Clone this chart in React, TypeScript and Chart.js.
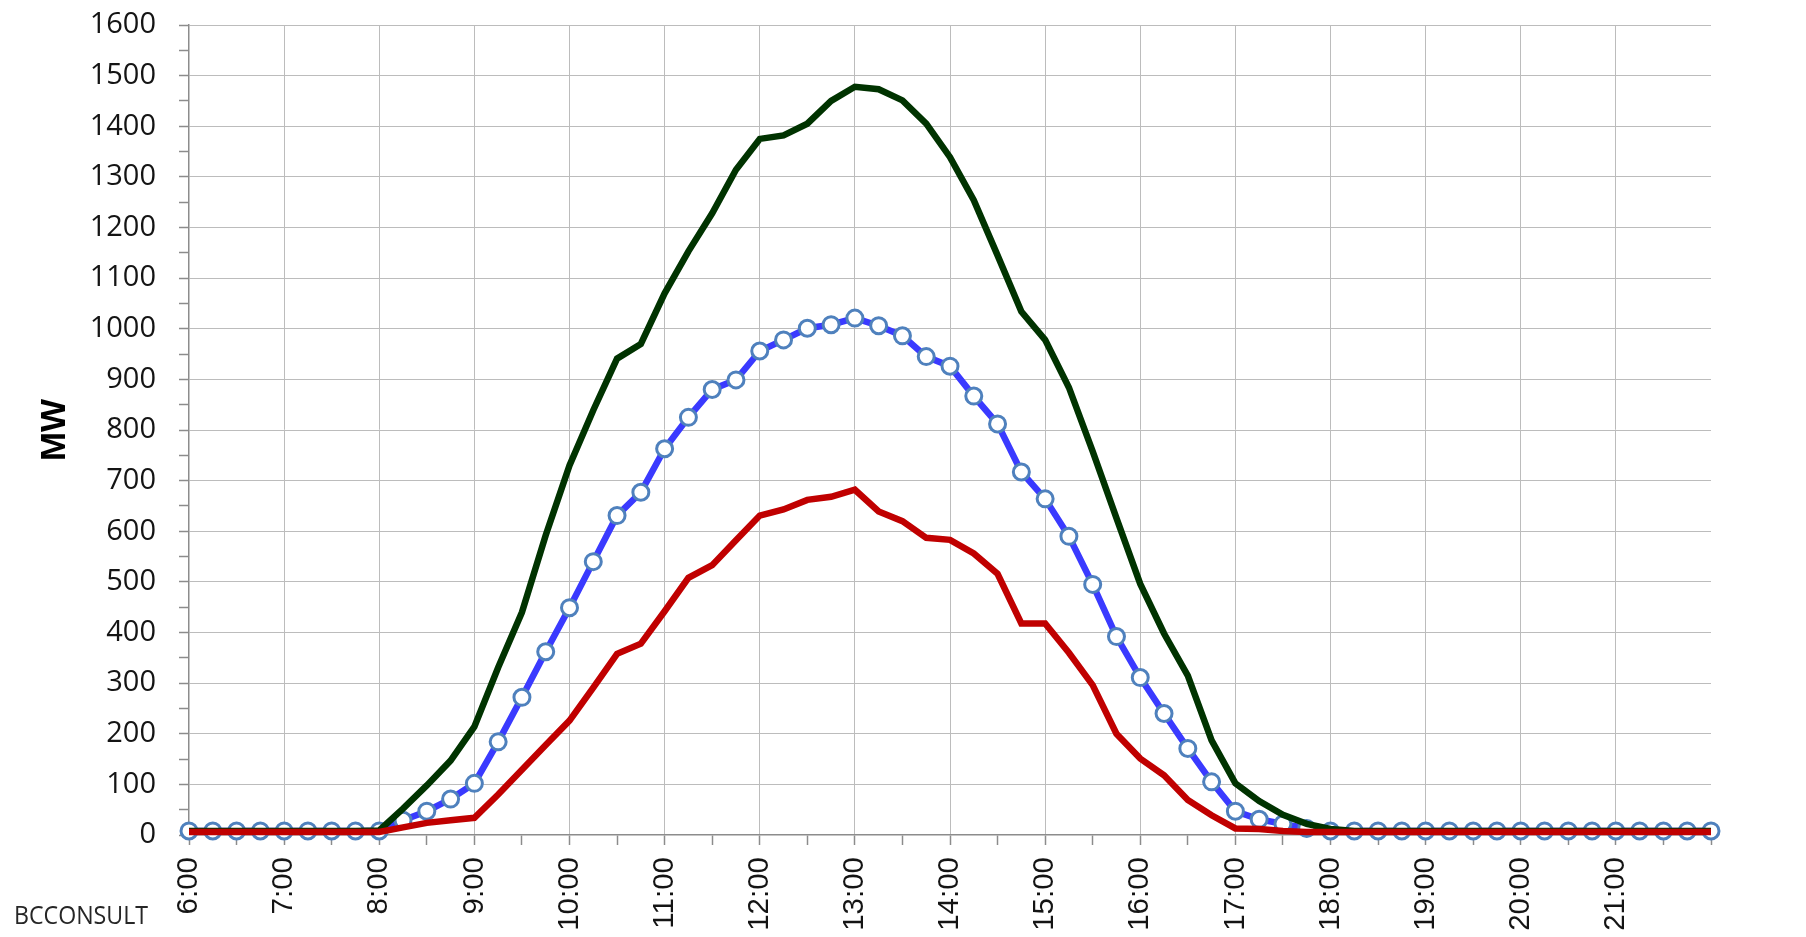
import React, { useEffect, useRef } from "react";
import { Chart, registerables } from "chart.js";

Chart.register(...registerables);

const times = [
  "6:00", "6:15", "6:30", "6:45", "7:00", "7:15", "7:30", "7:45",
  "8:00", "8:15", "8:30", "8:45", "9:00", "9:15", "9:30", "9:45",
  "10:00", "10:15", "10:30", "10:45", "11:00", "11:15", "11:30", "11:45",
  "12:00", "12:15", "12:30", "12:45", "13:00", "13:15", "13:30", "13:45",
  "14:00", "14:15", "14:30", "14:45", "15:00", "15:15", "15:30", "15:45",
  "16:00", "16:15", "16:30", "16:45", "17:00", "17:15", "17:30", "17:45",
  "18:00", "18:15", "18:30", "18:45", "19:00", "19:15", "19:30", "19:45",
  "20:00", "20:15", "20:30", "20:45", "21:00", "21:15", "21:30", "21:45",
  "22:00",
];

const blueSeries = [
  8, 8, 8, 8, 8, 8, 8, 8,
  8, 29, 47, 71, 102, 184, 272, 362,
  449, 540, 631, 677, 763, 825, 880, 899,
  956, 978, 1001, 1008, 1021, 1006, 986, 945,
  926, 867, 812, 717, 664, 590, 495, 392,
  311, 240, 171, 105, 47, 31, 22, 13,
  8, 8, 8, 8, 8, 8, 8, 8,
  8, 8, 8, 8, 8, 8, 8, 8,
  8,
];

const greenSeries = [
  8, 8, 8, 8, 8, 8, 8, 8,
  9, 52, 98, 147, 214, 331, 440, 592,
  730, 839, 941, 970, 1070, 1153, 1228, 1314,
  1375, 1382, 1405, 1450, 1478, 1473, 1451, 1405,
  1339, 1254, 1145, 1034, 978, 884, 758, 626,
  496, 398, 315, 187, 102, 67, 40, 22,
  12, 8, 8, 8, 8, 8, 8, 8,
  8, 8, 8, 8, 8, 8, 8, 8,
  8,
];

const redSeries = [
  6, 6, 6, 6, 6, 6, 6, 6,
  6, 15, 24, 29, 34, 80, 129, 178,
  226, 291, 358, 378, 442, 508, 533, 582,
  631, 643, 662, 668, 682, 639, 620, 587,
  583, 556, 516, 418, 418, 360, 296, 200,
  151, 118, 69, 39, 13, 12, 8, 6,
  6, 6, 6, 6, 6, 6, 6, 6,
  6, 6, 6, 6, 6, 6, 6, 6,
  6,
];

const yTitle = "MW";
const footerText = "BCCONSULT";

const GRID = "#bcbcbc";
const AXIS = "#8c8c8c";
const TEXT = "#141414";

const footerPlugin = {
  id: "footerText",
  afterDraw(chart: any) {
    const ctx = chart.ctx;
    ctx.save();
    ctx.font = '26px "Open Sans"';
    ctx.fillStyle = "#262626";
    ctx.textBaseline = "alphabetic";
    ctx.textAlign = "left";
    const w = ctx.measureText(footerText).width;
    const target = 134;
    ctx.translate(14, 924);
    ctx.scale(target / w, 1);
    ctx.fillText(footerText, 0, 0);
    ctx.restore();
  },
};

export default function App() {
  const canvasRef = useRef<HTMLCanvasElement | null>(null);

  useEffect(() => {
    const canvas = canvasRef.current;
    if (!canvas) return;
    const chart = new Chart(canvas, {
      type: "line",
      data: {
        labels: times,
        datasets: [
          {
            label: "red",
            data: redSeries,
            borderColor: "#c00000",
            backgroundColor: "#c00000",
            borderWidth: 6.5,
            pointRadius: 0,
            tension: 0,
            order: 1,
            clip: false as any,
          },
          {
            label: "green",
            data: greenSeries,
            borderColor: "#003300",
            backgroundColor: "#003300",
            borderWidth: 6.5,
            pointRadius: 0,
            tension: 0,
            order: 2,
            clip: false as any,
          },
          {
            label: "blue",
            data: blueSeries,
            borderColor: "#3a3aff",
            backgroundColor: "#3a3aff",
            borderWidth: 6.5,
            pointRadius: 8,
            pointBorderWidth: 3,
            pointBorderColor: "#4f81bd",
            pointBackgroundColor: "#ffffff",
            tension: 0,
            order: 3,
            clip: false as any,
          },
        ],
      },
      options: {
        animation: false,
        responsive: false,
        maintainAspectRatio: false,
        devicePixelRatio: 1,
        layout: { padding: { left: 0, top: 25, right: 95, bottom: 0 } },
        plugins: {
          legend: { display: false },
          tooltip: { enabled: false },
        },
        events: [],
        scales: {
          x: {
            type: "category",
            offset: false,
            afterFit(scale: any) {
              scale.height = 102;
            },
            border: { display: true, color: AXIS, width: 1.5 },
            grid: {
              display: true,
              drawOnChartArea: true,
              drawTicks: true,
              tickLength: 10,
              lineWidth: 1,
              color: (ctx: any) =>
                ctx.index % 4 === 0 && ctx.index !== 0 && ctx.index !== times.length - 1
                  ? GRID
                  : "rgba(0,0,0,0)",
              tickColor: (ctx: any) => (ctx.index % 2 === 0 ? AXIS : "rgba(0,0,0,0)"),
              tickWidth: 1.5,
            },
            ticks: {
              autoSkip: false,
              maxRotation: 90,
              minRotation: 90,
              padding: 12,
              color: TEXT,
              font: { family: '"Liberation Sans"', size: 29.5 },
              callback: (_v: any, index: number) =>
                index % 4 === 0 && index !== times.length - 1 ? times[index] : "",
            },
          },
          y: {
            type: "linear",
            min: 0,
            max: 1600,
            afterFit(scale: any) {
              scale.width = 189;
              scale.paddingTop = 10;
              scale.paddingBottom = 10;
            },
            border: { display: true, color: AXIS, width: 1.5 },
            grid: {
              display: true,
              drawTicks: true,
              tickLength: 10,
              lineWidth: 1,
              color: (ctx: any) =>
                ctx.tick && ctx.tick.value % 100 === 0 && ctx.tick.value !== 0
                  ? GRID
                  : "rgba(0,0,0,0)",
              tickColor: AXIS,
              tickWidth: 1.5,
            },
            ticks: {
              stepSize: 50,
              autoSkip: false,
              padding: 23,
              color: TEXT,
              font: { family: '"Open Sans"', size: 29 },
              callback: (v: any) => (Number(v) % 100 === 0 ? String(v) : ""),
            },
            title: {
              display: true,
              text: yTitle,
              color: "#000000",
              font: { family: '"Liberation Sans"', size: 35, weight: "bold" },
              padding: { top: 34, bottom: 0 },
            },
          },
        },
      },
      plugins: [footerPlugin],
    } as any);
    return () => {
      chart.destroy();
    };
  }, []);

  return (
    <div style={{ position: "absolute", left: 0, top: 0, width: 1806, height: 937, background: "#ffffff" }}>
      <canvas ref={canvasRef} width={1806} height={937} style={{ display: "block", width: 1806, height: 937 }} />
    </div>
  );
}
